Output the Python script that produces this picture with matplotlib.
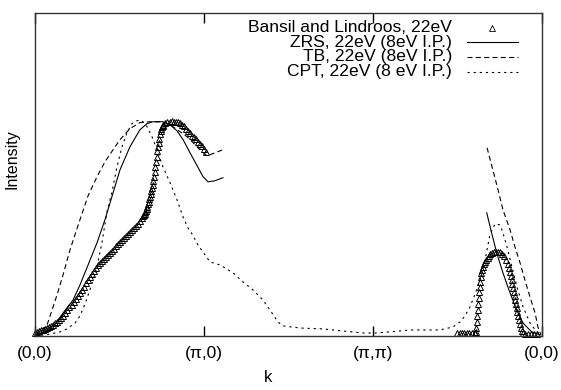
import matplotlib
matplotlib.use("Agg")
import matplotlib.pyplot as plt

plt.rcParams['font.family'] = ['Liberation Sans', 'DejaVu Sans']

# ---- data (k in path units: 0=(0,0), 1=(pi,0), 2=(pi,pi), 3=(0,0)) ----
tick_pos = [0, 1, 2, 3]
tick_labels = ['(0,0)', '(π,0)', '(π,π)', '(0,0)']

# Bansil and Lindroos, segment 1
bansil_k1 = [0.000, 0.012, 0.024, 0.036, 0.048, 0.060, 0.072, 0.084, 0.096, 0.108,
             0.120, 0.132, 0.144, 0.156, 0.168, 0.180, 0.192, 0.204, 0.216, 0.228,
             0.240, 0.252, 0.264, 0.276, 0.288, 0.300, 0.312, 0.324, 0.336, 0.348,
             0.360, 0.372, 0.384, 0.396, 0.408, 0.420, 0.432, 0.444, 0.456, 0.468,
             0.480, 0.492, 0.504, 0.516, 0.528, 0.540, 0.552, 0.564, 0.576, 0.588,
             0.600, 0.612, 0.624, 0.636,
             0.640, 0.644, 0.648, 0.652, 0.656, 0.660, 0.664, 0.668, 0.672, 0.676,
             0.680, 0.684, 0.688, 0.692, 0.696, 0.700, 0.704, 0.708, 0.712, 0.716,
             0.720, 0.724, 0.728, 0.732, 0.736, 0.740, 0.744, 0.748, 0.752, 0.756,
             0.760,
             0.772, 0.784, 0.796, 0.808, 0.820, 0.832, 0.844, 0.856, 0.868, 0.880,
             0.892, 0.904, 0.916, 0.928, 0.940, 0.952, 0.964, 0.976, 0.988, 1.000,
             1.012]
bansil_i1 = [0.012, 0.018, 0.022, 0.026, 0.030, 0.033, 0.037, 0.041, 0.046, 0.053,
             0.060, 0.067, 0.075, 0.083, 0.091, 0.105, 0.119, 0.133, 0.146, 0.159,
             0.172, 0.186, 0.199, 0.214, 0.229, 0.244, 0.259, 0.274, 0.288, 0.302,
             0.316, 0.328, 0.339, 0.349, 0.359, 0.368, 0.377, 0.387, 0.397, 0.406,
             0.416, 0.426, 0.436, 0.446, 0.455, 0.464, 0.474, 0.483, 0.492, 0.502,
             0.512, 0.522, 0.534, 0.549,
             0.555, 0.562, 0.568, 0.574, 0.581, 0.588, 0.600, 0.612, 0.623, 0.634,
             0.646, 0.659, 0.672, 0.686, 0.702, 0.720, 0.739, 0.760, 0.783, 0.806,
             0.832, 0.860, 0.880, 0.898, 0.915, 0.938, 0.953, 0.963, 0.971, 0.977,
             0.981,
             0.988, 0.993, 0.996, 0.997, 0.996, 0.995, 0.993, 0.990, 0.982, 0.973,
             0.963, 0.952, 0.941, 0.931, 0.922, 0.913, 0.903, 0.893, 0.881, 0.869,
             0.856]

# Bansil and Lindroos, segment 2
bansil_k2 = [2.497, 2.512, 2.527, 2.541, 2.556, 2.571, 2.586, 2.601, 2.604, 2.609,
             2.612, 2.615, 2.618, 2.621, 2.624, 2.627, 2.630, 2.633, 2.636, 2.639,
             2.642, 2.645, 2.651, 2.657, 2.663, 2.669, 2.678, 2.686, 2.695, 2.704,
             2.716, 2.728, 2.740, 2.751, 2.763, 2.775, 2.787, 2.796, 2.802, 2.808,
             2.814, 2.820, 2.825, 2.830, 2.834, 2.838, 2.843, 2.847, 2.851, 2.855,
             2.859, 2.864, 2.869, 2.874, 2.880, 2.888, 2.899, 2.917, 2.935, 2.953,
             2.970]
bansil_i2 = [0.014, 0.014, 0.014, 0.014, 0.014, 0.014, 0.014, 0.014, 0.014, 0.019,
             0.037, 0.065, 0.093, 0.121, 0.149, 0.177, 0.205, 0.228, 0.251, 0.274,
             0.293, 0.307, 0.321, 0.335, 0.344, 0.353, 0.363, 0.372, 0.379, 0.384,
             0.388, 0.391, 0.391, 0.388, 0.381, 0.372, 0.353, 0.335, 0.316, 0.298,
             0.279, 0.260, 0.242, 0.223, 0.205, 0.186, 0.167, 0.149, 0.130, 0.112,
             0.093, 0.074, 0.056, 0.037, 0.023, 0.014, 0.009, 0.009, 0.009, 0.009,
             0.009]

# ZRS
zrs_k1 = [0, 0.047, 0.089, 0.130, 0.166, 0.225, 0.266, 0.314, 0.367, 0.414, 0.462,
          0.503, 0.562, 0.621, 0.663, 0.698, 0.757, 0.799, 0.840, 0.876, 0.917,
          0.959, 0.994, 1.024, 1.065, 1.112]
zrs_i1 = [0, 0.014, 0.033, 0.065, 0.107, 0.167, 0.237, 0.330, 0.433, 0.540, 0.665,
          0.772, 0.879, 0.958, 0.986, 0.995, 0.995, 0.981, 0.953, 0.912, 0.851,
          0.791, 0.740, 0.716, 0.721, 0.735]
zrs_k2 = [2.673, 2.702, 2.732, 2.769, 2.811, 2.850, 2.888, 2.939, 2.988]
zrs_i2 = [0.572, 0.479, 0.386, 0.293, 0.200, 0.121, 0.060, 0.019, 0.005]

# TB
tb_k1 = [0, 0.030, 0.071, 0.107, 0.136, 0.166, 0.207, 0.266, 0.314, 0.367, 0.414,
         0.462, 0.503, 0.562, 0.621, 0.680, 0.740, 0.799, 0.858, 0.899, 0.935,
         0.976, 1.018, 1.053, 1.083, 1.112]
tb_i1 = [0, 0.019, 0.051, 0.135, 0.205, 0.284, 0.400, 0.540, 0.651, 0.740, 0.809,
         0.865, 0.912, 0.963, 0.991, 0.995, 0.995, 0.981, 0.949, 0.926, 0.898,
         0.865, 0.837, 0.847, 0.856, 0.865]
tb_k2 = [2.675, 2.740, 2.769, 2.811, 2.840, 2.870, 2.899, 2.929, 2.959, 2.976, 2.994]
tb_i2 = [0.874, 0.679, 0.586, 0.493, 0.414, 0.340, 0.260, 0.181, 0.107, 0.042, 0.005]

# CPT
cpt_k = [0, 0.089, 0.148, 0.189, 0.237, 0.266, 0.296, 0.325, 0.367, 0.396, 0.426,
         0.456, 0.485, 0.515, 0.544, 0.574, 0.604, 0.633, 0.663, 0.692, 0.722,
         0.757, 0.799, 0.840, 0.876, 0.905, 0.929, 0.964, 1.006, 1.036, 1.095,
         1.172, 1.231, 1.290, 1.349, 1.402, 1.438, 1.467, 1.568, 1.704, 1.822,
         1.941, 2.012, 2.101, 2.219, 2.320, 2.396, 2.473, 2.515, 2.544, 2.574,
         2.604, 2.633, 2.663, 2.692, 2.722, 2.751, 2.769, 2.793, 2.822, 2.852,
         2.888, 2.929, 2.970, 3.000]
cpt_i = [0, 0.009, 0.019, 0.033, 0.060, 0.093, 0.149, 0.214, 0.321, 0.433, 0.577,
         0.670, 0.786, 0.879, 0.944, 0.986, 1.000, 1.000, 0.972, 0.926, 0.865,
         0.786, 0.712, 0.633, 0.553, 0.502, 0.474, 0.423, 0.377, 0.344, 0.330,
         0.293, 0.251, 0.214, 0.167, 0.107, 0.065, 0.047, 0.037, 0.033, 0.023,
         0.014, 0.014, 0.019, 0.028, 0.028, 0.028, 0.042, 0.065, 0.093, 0.135,
         0.195, 0.260, 0.353, 0.470, 0.521, 0.516, 0.479, 0.414, 0.321, 0.228,
         0.135, 0.060, 0.019, 0.005]

labels = ['Bansil and Lindroos, 22eV', 'ZRS, 22eV (8eV I.P.)',
          'TB, 22eV (8eV I.P.)', 'CPT, 22eV (8 eV I.P.)']

# ---- figure ----
fig = plt.figure(figsize=(5.61, 3.90), dpi=100)
ax = fig.add_axes([35/561, 1-336/390, 507/561, 323/390])

lw = 0.8
tb_dash = (4.5, 3.0)
cpt_dash = (2.0, 3.5)
tri = dict(marker='^', markersize=4.4, markerfacecolor='none',
           markeredgecolor='black', markeredgewidth=0.7, linestyle='none')
tri_leg = dict(tri, markersize=3.8, markeredgewidth=0.6)

ax.plot(bansil_k1, bansil_i1, **tri, clip_on=False)
ax.plot(bansil_k2, bansil_i2, **tri, clip_on=False)
ax.plot(zrs_k1, zrs_i1, color='black', lw=lw)
ax.plot(zrs_k2, zrs_i2, color='black', lw=lw)
ax.plot(tb_k1, tb_i1, color='black', lw=lw, dashes=tb_dash)
ax.plot(tb_k2, tb_i2, color='black', lw=lw, dashes=tb_dash)
ax.plot(cpt_k, cpt_i, color='black', lw=lw, dashes=cpt_dash)

ax.set_xlim(0, 3)
ax.set_ylim(0, 1.5)
ax.set_xticks(tick_pos)
ax.set_xticklabels(tick_labels, fontsize=12.5)
ax.set_yticks([])
ax.tick_params(axis='x', direction='in', length=7, width=1, top=True, pad=7)
for s in ax.spines.values():
    s.set_linewidth(1.0)
    s.set_color('#333333')

ax.set_xlabel('k', fontsize=12)
ax.xaxis.set_label_coords(0.46, -0.105)
ax.set_ylabel('Intensity', fontsize=11.5)
ax.yaxis.set_label_coords(-0.031, 0.548)

# manual legend (text right-aligned, sample to the right)
rows_y = [0.955, 0.909, 0.864, 0.818]
tx = 0.823
x0, x1, xm = 0.852, 0.952, 0.902
for lab, yy in zip(labels, rows_y):
    ax.text(tx, yy, lab, transform=ax.transAxes, ha='right', va='center', fontsize=12.6)
ax.plot([xm], [rows_y[0]], transform=ax.transAxes, clip_on=False, **tri_leg)
ax.plot([x0, x1], [rows_y[1]] * 2, transform=ax.transAxes, color='black', lw=lw)
ax.plot([x0, x1], [rows_y[2]] * 2, transform=ax.transAxes, color='black', lw=lw,
        dashes=tb_dash)
ax.plot([x0, x1], [rows_y[3]] * 2, transform=ax.transAxes, color='black', lw=lw,
        dashes=cpt_dash)

fig.savefig('out.png', dpi=100)
